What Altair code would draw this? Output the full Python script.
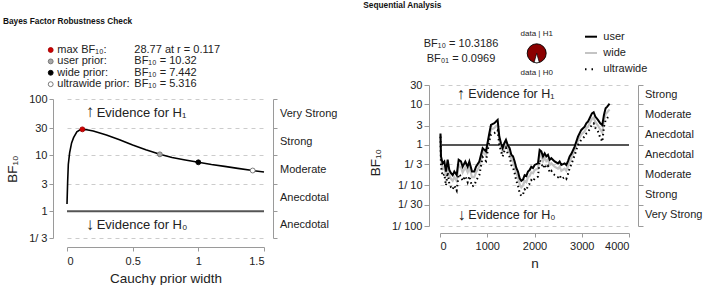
import math
import altair as alt
import pandas as pd

# ---------------- data ----------------
# Bayes factor robustness check: BF10 as a function of Cauchy prior width r
ROB_R = [0, 0.005, 0.01, 0.02, 0.035, 0.05, 0.075, 0.1, 0.117, 0.15, 0.2, 0.3,
         0.4, 0.5, 0.6, 0.707, 0.8, 0.9, 1.0, 1.1, 1.2, 1.3, 1.414, 1.5]
ROB_BF = [1.35, 3.4, 6.8, 11.0, 16.5, 20.5, 26.0, 28.3, 28.77, 28.4, 27.0, 22.8,
          18.8, 15.2, 12.5, 10.32, 9.1, 8.2, 7.442, 6.8, 6.3, 5.8, 5.316, 5.0]

PRIOR_NAMES = ["max", "user", "wide", "ultrawide"]
PRIOR_R = [0.117, 0.707, 1.0, 1.414]
PRIOR_BF = [28.77, 10.32, 7.442, 5.316]
PRIOR_LABELS = ["max BF₁₀:", "user prior:", "wide prior:", "ultrawide prior:"]
PRIOR_VALUES = ["28.77 at r = 0.117", "BF₁₀ = 10.32", "BF₁₀ = 7.442", "BF₁₀ = 5.316"]

L_X_TICKS = [0, 0.5, 1, 1.5]
L_X_LABELS = ["0", "0.5", "1", "1.5"]
L_Y_TICKS = [1 / 3, 1, 3, 10, 30, 100]
L_Y_LABELS = ["1/ 3", "1", "3", "10", "30", "100"]
L_EVIDENCE = ["Anecdotal", "Anecdotal", "Moderate", "Strong", "Very Strong"]

# Sequential analysis
SEQ_N = [10, 21, 56, 92, 127, 162, 197, 233, 268, 303,
         353, 395, 444, 479, 536, 585, 621, 677, 726, 762,
         832, 903, 973, 1044, 1079, 1150, 1185, 1220, 1255, 1291,
         1326, 1361, 1396, 1432, 1474, 1509, 1545, 1580, 1615, 1650,
         1686, 1721, 1756, 1791, 1827, 1862, 1897, 1932, 1968, 2003,
         2074, 2109, 2144, 2180, 2215, 2250, 2285, 2321, 2356, 2426,
         2497, 2532, 2568, 2638, 2673, 2709, 2744, 2779, 2850, 2920,
         2991, 3061, 3096, 3132, 3167, 3216, 3252, 3287, 3343, 3392,
         3435, 3470, 3505, 3540, 3568, 3589]
SEQ_USER = [1.9, 0.52, 0.35, 0.39, 0.22, 0.43, 0.24, 0.20, 0.18, 0.22,
            0.18, 0.43, 0.39, 0.29, 0.39, 0.29, 0.39, 0.22, 0.22, 0.29,
            0.39, 0.83, 0.69, 1.94, 3.1, 3.42, 3.76, 4.13, 1.6, 1.1,
            0.83, 1.1, 1.33, 1.0, 0.83, 0.57, 0.52, 0.39, 0.27, 0.22,
            0.15, 0.13, 0.14, 0.18, 0.17, 0.22, 0.24, 0.29, 0.27, 0.32,
            0.35, 0.75, 0.69, 0.52, 0.62, 0.52, 0.57, 0.43, 0.47, 0.39,
            0.35, 0.39, 0.32, 0.35, 0.32, 0.40, 0.52, 0.60, 0.91, 1.6,
            2.34, 2.83, 3.42, 3.76, 4.54, 6.0, 6.4, 5.0, 4.13, 3.42,
            3.1, 5.5, 8.0, 8.8, 9.7, 10.32]
SEQ_WIDE = [1.8, 0.42, 0.26, 0.29, 0.16, 0.32, 0.18, 0.145, 0.13, 0.16,
            0.13, 0.31, 0.28, 0.21, 0.28, 0.21, 0.28, 0.16, 0.16, 0.21,
            0.29, 0.68, 0.55, 1.6, 2.4, 2.6, 2.9, 3.1, 1.3, 0.9,
            0.67, 0.9, 1.1, 0.8, 0.66, 0.44, 0.40, 0.29, 0.20, 0.16,
            0.105, 0.09, 0.10, 0.13, 0.12, 0.16, 0.17, 0.21, 0.20, 0.24,
            0.26, 0.6, 0.54, 0.4, 0.48, 0.4, 0.44, 0.32, 0.35, 0.29,
            0.26, 0.29, 0.23, 0.26, 0.23, 0.3, 0.4, 0.47, 0.74, 1.3,
            1.8, 2.15, 2.6, 2.8, 3.4, 4.4, 4.7, 3.7, 3.0, 2.4,
            2.0, 4.0, 5.8, 6.4, 7.0, 7.442]
SEQ_ULTRA = [1.6, 0.30, 0.17, 0.19, 0.10, 0.21, 0.11, 0.09, 0.08, 0.10,
             0.075, 0.19, 0.17, 0.13, 0.17, 0.12, 0.17, 0.095, 0.10, 0.13,
             0.18, 0.50, 0.40, 1.25, 1.8, 1.95, 2.1, 2.3, 1.0, 0.7,
             0.52, 0.7, 0.85, 0.62, 0.5, 0.32, 0.28, 0.2, 0.13, 0.1,
             0.065, 0.055, 0.06, 0.08, 0.075, 0.1, 0.11, 0.135, 0.125, 0.15,
             0.165, 0.42, 0.37, 0.27, 0.33, 0.27, 0.3, 0.21, 0.23, 0.18,
             0.16, 0.18, 0.145, 0.16, 0.145, 0.19, 0.27, 0.33, 0.56, 1.0,
             1.35, 1.6, 1.9, 2.05, 2.45, 3.2, 3.4, 2.65, 2.15, 1.5,
             1.2, 2.8, 4.1, 4.6, 5.0, 5.316]
SEQ_BF10 = 10.3186
SEQ_BF01 = 0.0969
SEQ_LEGEND = ["user", "wide", "ultrawide"]

R_X_TICKS = [0, 1000, 2000, 3000, 4000]
R_X_LABELS = ["0", "1000", "2000", "3000", "4000"]
R_Y_TICKS = [1 / 100, 1 / 30, 1 / 10, 1 / 3, 1, 3, 10, 30]
R_Y_LABELS = ["1/ 100", "1/ 30", "1/ 10", "1/ 3", "1", "3", "10", "30"]
R_EVIDENCE = ["Very Strong", "Strong", "Moderate", "Anecdotal", "Anecdotal", "Moderate", "Strong"]

# ---------------- styles ----------------
FONT = "Liberation Sans"
TXT = "#222222"
AX = "#9a9a9a"
GRIDC = "#cccccc"
PRIOR_FILL = ["#d00000", "#a8a8a8", "#000000", "#ffffff"]
PRIOR_STROKE = ["#a00000", "#6e6e6e", "#000000", "#6e6e6e"]
SEQ_COLORS = ["#000000", "#c4c4c4", "#000000"]
ONE = pd.DataFrame({"k": [0]})


def labexpr(values, labels):
    expr = "''"
    for v, lab in reversed(list(zip(values, labels))):
        tol = abs(v) * 1e-3 + 1e-9
        expr = f"abs(datum.value - {v}) < {tol} ? '{lab}' : ({expr})"
    return expr


def txt(x, y, s, size=11, align="left", weight="normal", color=TXT):
    return alt.Chart(ONE).mark_text(
        text=s, align=align, baseline="middle", fontSize=size, font=FONT,
        fontWeight=weight, color=color
    ).encode(x=alt.value(x), y=alt.value(y))


def dot(x, y, fill, stroke):
    return alt.Chart(ONE).mark_circle(
        size=24, fill=fill, stroke=stroke, strokeWidth=0.9, opacity=1
    ).encode(x=alt.value(x), y=alt.value(y))


def seg(x1, x2, y, color, width, dash=None):
    kw = dict(color=color, strokeWidth=width)
    if dash:
        kw["strokeDash"] = dash
    return alt.Chart(ONE).mark_rule(**kw).encode(
        x=alt.value(x1), x2=alt.value(x2), y=alt.value(y))


# ---------------- left panel ----------------
LW, LH = 197, 153
lx = alt.Scale(domain=[0, 1.5], nice=False, zero=False)
ly = alt.Scale(type="log", domain=[1 / 3, 100], range=[153, 14], nice=False)
LX_AXIS = alt.Axis(values=L_X_TICKS, labelExpr=labexpr(L_X_TICKS, L_X_LABELS),
                   title="Cauchy prior width", offset=9, labelPadding=4,
                   titlePadding=5, grid=False)

rob = pd.DataFrame({"r": ROB_R, "bf": ROB_BF})
curve = alt.Chart(rob).mark_line(color="black", strokeWidth=1.6).encode(
    x=alt.X("r:Q", scale=lx, axis=LX_AXIS),
    y=alt.Y("bf:Q", scale=ly, axis=alt.Axis(
        values=L_Y_TICKS, labelExpr=labexpr(L_Y_TICKS, L_Y_LABELS), title="BF₁₀",
        offset=14, labelPadding=2, titlePadding=9, grid=True, gridDash=[4, 4],
        gridColor=GRIDC)),
)
one_l = alt.Chart(ONE).mark_rule(color="#555555", strokeWidth=2).encode(
    x=alt.X(datum=L_X_TICKS[0], scale=lx, axis=LX_AXIS), x2=alt.X2(datum=L_X_TICKS[-1]),
    y=alt.Y(datum=1, scale=ly, axis=None))

pdf = pd.DataFrame({"r": PRIOR_R, "bf": PRIOR_BF, "name": PRIOR_NAMES})
pts = alt.Chart(pdf).mark_circle(size=24, strokeWidth=0.9, opacity=1).encode(
    x=alt.X("r:Q", scale=lx, axis=LX_AXIS),
    y=alt.Y("bf:Q", scale=ly, axis=None),
    fill=alt.Fill("name:N", scale=alt.Scale(domain=PRIOR_NAMES, range=PRIOR_FILL), legend=None),
    stroke=alt.Stroke("name:N", scale=alt.Scale(domain=PRIOR_NAMES, range=PRIOR_STROKE), legend=None),
)

lcat = pd.DataFrame({
    "mid": [math.sqrt(a * b) for a, b in zip(L_Y_TICKS[:-1], L_Y_TICKS[1:])],
    "label": L_EVIDENCE})
lcats = alt.Chart(lcat).mark_text(align="left", baseline="middle", fontSize=11,
                                  font=FONT, color=TXT).encode(
    x=alt.value(213),
    y=alt.Y("mid:Q", scale=ly, axis=alt.Axis(
        orient="right", values=L_Y_TICKS, labels=False, title=None, offset=9, grid=False)),
    text="label:N")

left_ann = [
    alt.Chart(ONE).mark_rule(strokeWidth=0, opacity=0).encode(
        x=alt.value(-67), x2=alt.value(-67), y=alt.value(-85), y2=alt.value(-84)),
    txt(-64, -63, "Bayes Factor Robustness Check", size=8.3, weight="bold", color="#111111"),
    txt(18.7, 27, "↑", size=17, weight="bold"),
    txt(29.7, 28, "Evidence for H₁", size=13),
    txt(18.7, 140, "↓", size=17, weight="bold"),
    txt(29.7, 140, "Evidence for H₀", size=13),
]
for i, (lab, val) in enumerate(zip(PRIOR_LABELS, PRIOR_VALUES)):
    yy = -35 + i * 11.4
    left_ann.append(dot(-16.3, yy, PRIOR_FILL[i], PRIOR_STROKE[i]))
    left_ann.append(txt(-9.7, yy, lab, size=11))
    left_ann.append(txt(67.3, yy, val, size=11))

left = alt.layer(curve, one_l, pts, lcats, *left_ann).properties(
    width=LW, height=LH).resolve_axis(y="independent")

# ---------------- right panel ----------------
RW, RH = 189, 141
rx = alt.Scale(domain=[0, 4000], nice=False, zero=False)
ry = alt.Scale(type="log", domain=[0.01, 30], nice=False)
RX_AXIS = alt.Axis(values=R_X_TICKS, labelExpr=labexpr(R_X_TICKS, R_X_LABELS), title="n",
                   offset=7, labelPadding=3, titlePadding=5, grid=False)


def seq_df(vals):
    return pd.DataFrame({"n": SEQ_N, "bf": vals})


one_r = alt.Chart(ONE).mark_rule(color="#555555", strokeWidth=2).encode(
    x=alt.X(datum=R_X_TICKS[0], scale=rx, axis=RX_AXIS), x2=alt.X2(datum=R_X_TICKS[-1]),
    y=alt.Y(datum=1, scale=ry, axis=None))

wide = alt.Chart(seq_df(SEQ_WIDE)).mark_line(color=SEQ_COLORS[1], strokeWidth=2.2).encode(
    x=alt.X("n:Q", scale=rx, axis=RX_AXIS),
    y=alt.Y("bf:Q", scale=ry, axis=alt.Axis(
        orient="left", values=R_Y_TICKS, labelExpr=labexpr(R_Y_TICKS, R_Y_LABELS), title="BF₁₀",
        offset=11, tickSize=5, labelPadding=2, titlePadding=9, titleY=77,
        grid=True, gridDash=[4, 4], gridColor=GRIDC)),
)
user = alt.Chart(seq_df(SEQ_USER)).mark_line(color=SEQ_COLORS[0], strokeWidth=2).encode(
    x=alt.X("n:Q", scale=rx, axis=RX_AXIS), y=alt.Y("bf:Q", scale=ry, axis=None))
ultra = alt.Chart(seq_df(SEQ_ULTRA)).mark_line(
    color=SEQ_COLORS[2], strokeWidth=2, strokeDash=[1.5, 3]).encode(
    x=alt.X("n:Q", scale=rx, axis=RX_AXIS), y=alt.Y("bf:Q", scale=ry, axis=None))

rcat = pd.DataFrame({
    "mid": [math.sqrt(a * b) for a, b in zip(R_Y_TICKS[:-1], R_Y_TICKS[1:])],
    "label": R_EVIDENCE})
rcats = alt.Chart(rcat).mark_text(align="left", baseline="middle", fontSize=11,
                                  font=FONT, color=TXT).encode(
    x=alt.value(205),
    y=alt.Y("mid:Q", scale=ry, axis=alt.Axis(
        orient="right", values=R_Y_TICKS, labels=False, title=None, offset=9,
        tickSize=5, grid=False)),
    text="label:N")

p0 = 1 / (1 + SEQ_BF10)
pie_full = alt.Chart(pd.DataFrame({"t1": [0.0], "t2": [2 * math.pi]})).mark_arc(
    radius=9.5, fill="#8b0000", stroke="#000000", strokeWidth=0.9).encode(
    theta=alt.Theta("t1:Q", scale=None), theta2=alt.Theta2("t2:Q"),
    x=alt.value(96.7), y=alt.value(-31.7))
pie_h0 = alt.Chart(pd.DataFrame({"t1": [math.pi * (1 - p0)], "t2": [math.pi * (1 + p0)]})).mark_arc(
    radius=9.5, fill="#ffffff", stroke="#000000", strokeWidth=0.7).encode(
    theta=alt.Theta("t1:Q", scale=None), theta2=alt.Theta2("t2:Q"),
    x=alt.value(96.7), y=alt.value(-31.7))

right_ann = [
    txt(-76.7, -79, "Sequential Analysis", size=8.3, weight="bold", color="#111111"),
    txt(21, -40.7, f"BF₁₀ = {SEQ_BF10}", size=11, align="center"),
    txt(21, -26.3, f"BF₀₁ = {SEQ_BF01}", size=11, align="center"),
    pie_full, pie_h0,
    txt(96.7, -51, "data | H1", size=8, align="center"),
    txt(96.7, -12.3, "data | H0", size=8, align="center"),
    txt(16.7, 8.5, "↑", size=16, weight="bold"),
    txt(28.3, 9.3, "Evidence for H₁", size=12.5),
    txt(17.5, 130, "↓", size=16, weight="bold"),
    txt(28.3, 130, "Evidence for H₀", size=12.5),
]
leg_styles = [dict(width=2), dict(width=2), dict(width=2, dash=[1.5, 5])]
for i, name in enumerate(SEQ_LEGEND):
    yy = -48.3 + i * 16.3
    st = leg_styles[i]
    right_ann.append(seg(145, 157, yy, SEQ_COLORS[i], st["width"], st.get("dash")))
    right_ann.append(txt(163.3, yy, name, size=11))

right = alt.layer(one_r, wide, user, ultra, rcats, *right_ann).properties(
    width=RW, height=RH).resolve_axis(y="independent")

chart = alt.hconcat(left, right, spacing=176, bounds="flush").properties(
    padding=0
).configure_view(stroke=None).configure_axis(
    labelFont=FONT, labelFontSize=11, labelColor=TXT,
    titleFont=FONT, titleFontSize=13.5, titleFontWeight="normal", titleColor=TXT,
    domainColor=AX, tickColor=AX, domainWidth=1, tickWidth=1, tickSize=4,
)

chart.save("out.html", embed_options={"renderer": "svg", "actions": False})
